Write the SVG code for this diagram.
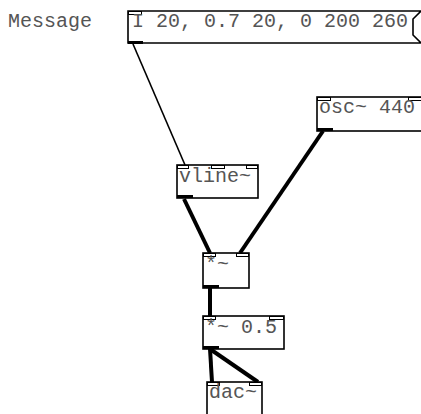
<svg xmlns="http://www.w3.org/2000/svg" width="421" height="414" viewBox="0 0 421 414">
<style>
.box{fill:#fff;stroke:#000;stroke-width:1.6}
.inlet{fill:#fff;stroke:#000;stroke-width:1}
.outlet{fill:#000}
.t{font-family:"Liberation Mono","Courier New",monospace;font-size:20px;fill:#555}
.sig{stroke:#000;stroke-width:4;fill:none}
.ctl{stroke:#000;stroke-width:1.6;fill:none}
</style>
<rect width="421" height="414" fill="#fff"/>
<text class="t" x="8" y="27">Message</text>
<g id="connectors">
<line class="ctl" x1="133" y1="44" x2="185" y2="165"/>
<line class="sig" x1="184" y1="199" x2="210" y2="253"/>
<line class="sig" x1="323" y1="131" x2="240" y2="253"/>
<line class="sig" x1="210" y1="288" x2="210" y2="316"/>
<line class="sig" x1="210" y1="349" x2="212" y2="382"/>
<line class="sig" x1="210" y1="349" x2="258" y2="382"/>
</g>
<g id="msg">
<path class="box" d="M128,11 H421 L413,19 V35 L421,43 H128 Z"/>
<rect class="inlet" x="128.5" y="11.5" width="13" height="3"/>
<rect class="outlet" x="128" y="41" width="15" height="3"/>
<text class="t" x="132" y="27">I 20, 0.7 20, 0 200 260</text>
</g>
<g id="osc">
<rect class="box" x="317" y="97" width="110" height="34"/>
<rect class="inlet" x="317.5" y="97.5" width="13" height="3"/>
<rect class="inlet" x="408.5" y="97.5" width="13" height="3"/>
<rect class="outlet" x="317" y="128" width="16" height="3"/>
<text class="t" x="319" y="113">osc~ 440</text>
</g>
<g id="vline">
<rect class="box" x="177" y="165" width="81" height="33"/>
<rect class="inlet" x="177.5" y="165.5" width="11" height="3"/>
<rect class="inlet" x="211.5" y="165.5" width="13" height="3"/>
<rect class="inlet" x="246.5" y="165.5" width="11" height="3"/>
<rect class="outlet" x="177" y="195" width="16" height="3"/>
<text class="t" x="179" y="182">vline~</text>
</g>
<g id="mul">
<rect class="box" x="203" y="253" width="46" height="35"/>
<rect class="inlet" x="203.5" y="253.5" width="12" height="3"/>
<rect class="inlet" x="236.5" y="253.5" width="12" height="3"/>
<rect class="outlet" x="203" y="285" width="16" height="3"/>
<text class="t" x="205" y="270">*~</text>
</g>
<g id="mul05">
<rect class="box" x="203" y="316" width="81" height="33"/>
<rect class="inlet" x="203.5" y="316.5" width="12" height="3"/>
<rect class="inlet" x="269.5" y="316.5" width="14" height="3"/>
<rect class="outlet" x="203" y="346" width="16" height="3"/>
<text class="t" x="205" y="333">*~ 0.5</text>
</g>
<g id="dac">
<rect class="box" x="207" y="382" width="55" height="40"/>
<rect class="inlet" x="207.5" y="382.5" width="12" height="3"/>
<rect class="inlet" x="249.5" y="382.5" width="12" height="3"/>
<text class="t" x="209" y="398">dac~</text>
</g>
</svg>
